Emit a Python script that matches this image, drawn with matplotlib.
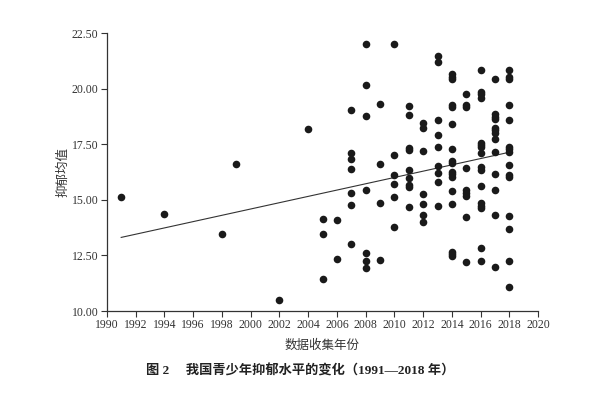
import numpy as np
import matplotlib
matplotlib.use('Agg')
import matplotlib.pyplot as plt

# data (year, mean depression score)
years_early = [1991, 1994, 1998, 1999, 2002, 2004]
vals_early = [15.14, 14.36, 13.48, 16.6, 10.48, 18.2]

y2005 = [14.14, 13.45, 11.44]
y2006 = [14.08, 12.35]
y2007 = [19.02, 17.12, 16.82, 16.4, 15.32, 14.77, 13.03]
y2008 = [21.99, 20.15, 18.77, 15.44, 12.62, 12.26, 11.93]
y2009 = [19.31, 16.62, 14.84, 12.28]
y2010 = [21.99, 17.01, 16.1, 15.7, 15.11, 13.78]
y2011 = [19.2, 18.81, 17.33, 17.24, 16.34, 15.98, 15.65, 15.59, 14.66]
y2012 = [18.45, 18.23, 17.19, 15.26, 14.81, 14.33, 14.02]
y2013 = [21.48, 21.2, 18.57, 17.9, 17.39, 16.52, 16.22, 15.81, 14.72]
y2014 = [20.64, 20.54, 20.43, 19.26, 19.19, 18.41, 17.3, 16.74, 16.64,
         16.26, 16.15, 16.01, 15.41, 14.82, 12.67, 12.56, 12.47]
y2015 = [19.76, 19.26, 19.16, 16.43, 15.43, 15.29, 15.18, 14.21, 12.22]
y2016 = [20.85, 19.86, 19.74, 19.58, 17.57, 17.45, 17.36, 17.1, 16.46,
         16.34, 15.62, 14.87, 14.73, 14.62, 12.82, 12.26]
y2017 = [20.43, 18.86, 18.74, 18.62, 18.24, 18.14, 18.02, 17.72, 17.15,
         16.15, 15.43, 14.33, 11.99]
y2018 = [20.85, 20.51, 20.43, 19.26, 18.59, 17.39, 17.27, 17.14, 16.55,
         16.12, 16.04, 14.27, 13.69, 12.26, 11.1]

# fitted trend line
fit_years = [1991, 2018]
fit_vals = [13.31, 17.14]

groups = {2005: y2005, 2006: y2006, 2007: y2007, 2008: y2008, 2009: y2009,
          2010: y2010, 2011: y2011, 2012: y2012, 2013: y2013, 2014: y2014,
          2015: y2015, 2016: y2016, 2017: y2017, 2018: y2018}

xs = list(years_early)
ys = list(vals_early)
for yr, v in groups.items():
    xs += [yr] * len(v)
    ys += v

serif = 'Liberation Serif'
mixed = ['Liberation Serif', 'Noto Sans CJK SC', 'DejaVu Sans']

fig = plt.figure(figsize=(6, 3.96), dpi=100)
ax = fig.add_axes([0.178, 0.2146, 0.719, 0.702])

ax.scatter(xs, ys, s=30, color='#1a1a1a', zorder=3, linewidths=0)
ax.plot(fit_years, fit_vals, color='#333333', lw=0.8, zorder=2)

ax.set_xlim(1990, 2020)
ax.set_ylim(10, 22.5)
ax.set_xticks(np.arange(1990, 2021, 2))
ax.set_yticks(np.arange(10, 22.51, 2.5))
ax.set_yticklabels(['%.2f' % t for t in np.arange(10, 22.51, 2.5)])

for s in ['top', 'right']:
    ax.spines[s].set_visible(False)
for s in ['left', 'bottom']:
    ax.spines[s].set_color('#333333')
    ax.spines[s].set_linewidth(0.9)

ax.tick_params(axis='both', direction='out', length=4, width=0.8,
               color='#333333', labelsize=8.5, labelcolor='#333333', pad=2)
for lab in ax.get_xticklabels() + ax.get_yticklabels():
    lab.set_fontfamily(serif)

ax.set_xlabel('数据收集年份', family=mixed, fontsize=9, color='#333333', labelpad=6)
ax.set_ylabel('抑郁均值', family=mixed, fontsize=9, color='#333333', labelpad=2)

fig.text(0.5, 0.063, '图 2　 我国青少年抑郁水平的变化（1991—2018 年）',
         family=mixed, fontsize=9.5, fontweight='bold', color='#222222',
         ha='center', va='center')

fig.savefig('out.png', dpi=100)
